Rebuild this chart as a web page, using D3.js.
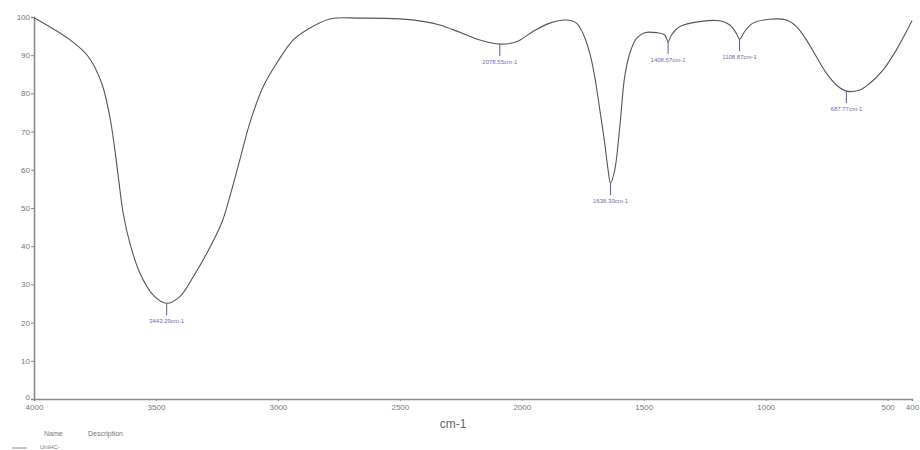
<!DOCTYPE html>
<html>
<head>
<meta charset="utf-8">
<script src="https://cdn.jsdelivr.net/npm/d3@7"></script>
<style>
  body { margin: 0; background: #fff; }
  svg { display: block; font-family: 'Liberation Sans', Arial, sans-serif; }
</style>
</head>
<body>
<div id="chart"></div>
<script>
// spectrum trace (wavenumber cm-1, %T)
const wavenumbers = [4000, 3852, 3777, 3722, 3688, 3668, 3654, 3634, 3607, 3566, 3511, 3456, 3402, 3347,
  3292, 3231, 3197, 3156, 3115, 3060, 3005, 2937, 2882, 2787, 2664, 2500, 2400, 2336, 2254, 2172, 2090,
  2022, 1954, 1885, 1817, 1776, 1749, 1721, 1701, 1680, 1660, 1646, 1636, 1619, 1598, 1578, 1557, 1530,
  1496, 1448, 1414, 1400, 1386, 1352, 1270, 1188, 1147, 1120, 1107, 1086, 1052, 984, 915, 874, 833, 792,
  751, 710, 669, 615, 574, 519, 464, 400]
const transmittance = [99.8, 94.0, 89.6, 82.6, 73.5, 65.0, 58.0, 48.5, 40.8, 33.0, 27.2, 25.05, 26.8, 32.0,
  38.1, 46.0, 53.0, 62.6, 72.3, 81.8, 87.9, 94.0, 96.6, 99.5, 99.7, 99.5, 98.8, 97.9, 96.0, 94.0, 92.9,
  93.5, 96.2, 98.4, 99.2, 98.4, 95.7, 90.5, 84.4, 75.7, 67.0, 59.9, 56.5, 59.9, 71.3, 84.4, 90.5, 94.4,
  95.9, 95.9, 95.3, 93.5, 95.3, 97.5, 98.8, 99.0, 97.9, 95.7, 94.2, 96.2, 98.4, 99.4, 99.2, 97.5, 94.0, 89.6,
  85.3, 82.2, 80.6, 80.9, 82.6, 86.1, 91.4, 99.0]

// peak picks
const peakWn = [3456, 2090, 1636, 1400, 1107, 669]
const peakT = [25.05, 92.9, 56.5, 93.5, 94.2, 80.6]
const peakLabels = ['3443.29cm-1', '2078.55cm-1', '1636.30cm-1', '1408.57cm-1', '1108.87cm-1', '687.77cm-1']

// axes
const xTicks = [4000, 3500, 3000, 2500, 2000, 1500, 1000, 500, 400]
const yTicks = [0, 10, 20, 30, 40, 50, 60, 70, 80, 90, 100]

const width = 920
const height = 450
const margin = {top: 17, right: 8, bottom: 51, left: 34}

const svg = d3.select('#chart')
  .append('svg')
  .attr('width', width)
  .attr('height', height)

const x = d3.scaleLinear().domain([4000, 400]).range([margin.left, width - margin.right])
const y = d3.scaleLinear().domain([0, 100]).range([height - margin.bottom, margin.top])

const axisColor = '#8a8a8a'
const textColor = '#777'

// y axis
const yAxis = svg.append('g')
  .attr('transform', `translate(${margin.left},0)`)
  .call(d3.axisLeft(y).tickValues(yTicks).tickSize(3).tickPadding(1))
yAxis.select('.domain').attr('stroke', axisColor).attr('stroke-width', 1.6)
yAxis.selectAll('.tick line').attr('stroke', axisColor)
yAxis.selectAll('.tick text').attr('fill', textColor).style('font-size', '8px')
// the 0 label sits a bit higher so it clears the 4000 below it
yAxis.selectAll('.tick text').filter((d) => d === 0).attr('dy', '0.1em')

// x axis
const xAxis = svg.append('g')
  .attr('transform', `translate(0,${height - margin.bottom})`)
  .call(d3.axisBottom(x).tickValues(xTicks).tickFormat(d3.format('d')).tickSize(2).tickPadding(3))
xAxis.select('.domain').attr('stroke', axisColor).attr('stroke-width', 1.6)
xAxis.selectAll('.tick line').attr('stroke', axisColor)
xAxis.selectAll('.tick text').attr('fill', textColor).style('font-size', '8px')

// x-axis label
svg.append('text')
  .attr('x', 453)
  .attr('y', 428)
  .attr('text-anchor', 'middle')
  .attr('fill', '#666')
  .style('font-size', '12px')
  .text('cm-1')

// spectrum
const data = wavenumbers.map((w, i) => ({w: w, t: transmittance[i]}))
const line = d3.line()
  .x((d) => x(d.w))
  .y((d) => y(d.t))
  .curve(d3.curveCatmullRom.alpha(0.5))

svg.append('path')
  .datum(data)
  .attr('fill', 'none')
  .attr('stroke', '#555')
  .attr('stroke-width', 1.1)
  .attr('d', line)

// peak markers
const markLen = 12
const peaks = svg.append('g').selectAll('g')
  .data(peakWn.map((w, i) => ({w: w, t: peakT[i], label: peakLabels[i]})))
  .enter()
  .append('g')

peaks.append('line')
  .attr('x1', (d) => x(d.w))
  .attr('x2', (d) => x(d.w))
  .attr('y1', (d) => y(d.t))
  .attr('y2', (d) => y(d.t) + markLen)
  .attr('stroke', '#5a5aa8')
  .attr('stroke-width', 1)

peaks.append('text')
  .attr('x', (d) => x(d.w))
  .attr('y', (d) => y(d.t) + markLen + 8)
  .attr('text-anchor', 'middle')
  .attr('fill', '#6a6ab8')
  .style('font-size', '6px')
  .text((d) => d.label)

// legend stub at the bottom
svg.append('text')
  .attr('x', 44).attr('y', 436)
  .attr('fill', textColor)
  .style('font-size', '7px')
  .text('Name')
svg.append('text')
  .attr('x', 88).attr('y', 436)
  .attr('fill', textColor)
  .style('font-size', '7px')
  .text('Description')
svg.append('line')
  .attr('x1', 12).attr('x2', 27)
  .attr('y1', 448).attr('y2', 448)
  .attr('stroke', '#888')
svg.append('text')
  .attr('x', 40).attr('y', 449)
  .attr('fill', textColor)
  .style('font-size', '6px')
  .text('UniHC-')
</script>
</body>
</html>
